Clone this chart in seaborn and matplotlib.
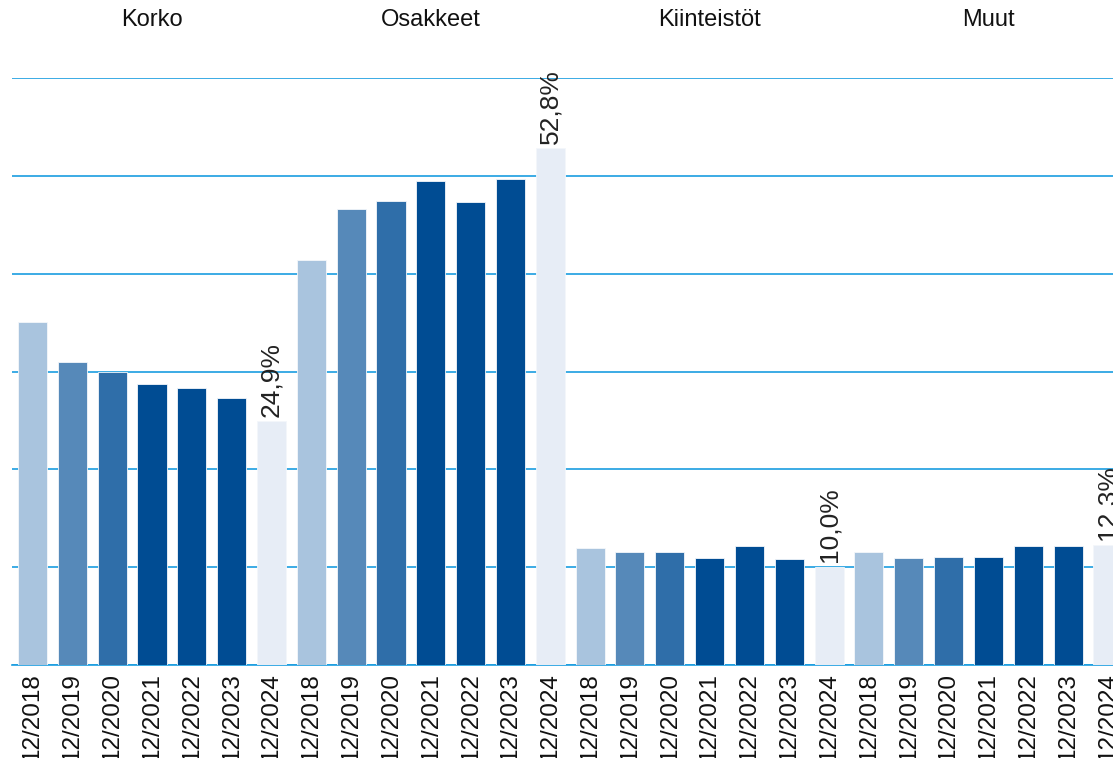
import matplotlib
matplotlib.use("Agg")
import matplotlib.pyplot as plt
import seaborn as sns
import pandas as pd

groups = ["Korko", "Osakkeet", "Kiinteistöt", "Muut"]
years = ["12/2018", "12/2019", "12/2020", "12/2021", "12/2022", "12/2023", "12/2024"]
korko = [35.1, 31.0, 30.0, 28.7, 28.3, 27.3, 24.9]
osakkeet = [41.4, 46.6, 47.4, 49.5, 47.3, 49.7, 52.8]
kiinteistot = [12.0, 11.6, 11.6, 10.9, 12.2, 10.8, 10.0]
muut = [11.6, 10.9, 11.0, 11.0, 12.2, 12.2, 12.3]
year_colors = ["#a9c4de", "#5689b9", "#2f6ea9", "#004c93", "#004c93", "#004c93", "#e7edf6"]

series = [korko, osakkeet, kiinteistot, muut]
rows = []
for g, vals in zip(groups, series):
    for y, v in zip(years, vals):
        rows.append({"key": f"{g} {y}", "group": g, "year": y, "value": v})
df = pd.DataFrame(rows)
palette = {r["key"]: year_colors[years.index(r["year"])] for r in rows}

sns.set_theme(style="white")
plt.rcParams["font.family"] = ["Liberation Sans", "DejaVu Sans"]

W, H = 1113, 758
fig = plt.figure(figsize=(W / 100, H / 100), dpi=100)
left_px, base_px, top_px = 12, 665, 78
ax = fig.add_axes([left_px / W, 1 - base_px / H, (W - left_px) / W, (base_px - top_px) / H])

sns.barplot(data=df, x="key", y="value", hue="key", palette=palette, legend=False,
            width=0.73, ax=ax, zorder=3, linewidth=0.6, edgecolor="#f4f7fb",
            saturation=1)

pitch = 39.83
ax.set_xlim(-(32.5 - left_px) / pitch, (W - 32.5) / pitch)
ax.set_ylim(0, 60)
ax.set_yticks([0, 10, 20, 30, 40, 50, 60])
ax.yaxis.grid(True, color="#1a9de0", linewidth=1.2, zorder=0)
ax.set_axisbelow(True)
ax.set_yticklabels([])
ax.tick_params(axis="y", length=0)
for s in ["top", "right", "left"]:
    ax.spines[s].set_visible(False)
ax.spines["bottom"].set_color("#1a9de0")
ax.spines["bottom"].set_linewidth(1.2)

ax.set_xticks(range(len(df)))
ax.set_xticklabels(df["year"], rotation=90, fontsize=17.5, color="#111111")
ax.tick_params(axis="x", length=0, pad=6)
ax.set_xlabel("")
ax.set_ylabel("")

for gi, (g, vals) in enumerate(zip(groups, series)):
    xi = gi * 7 + 6
    ax.text(xi, vals[-1] + 0.5, f"{vals[-1]:.1f}%".replace(".", ","), rotation=90,
            ha="center", va="bottom", fontsize=19, color="#222222", clip_on=False)
    ax.text(gi * 7 + 3, 60 + (top_px - 20) / 9.78, g, ha="center", va="center",
            fontsize=17, color="#111111", clip_on=False)

fig.savefig("out.png", dpi=100)
